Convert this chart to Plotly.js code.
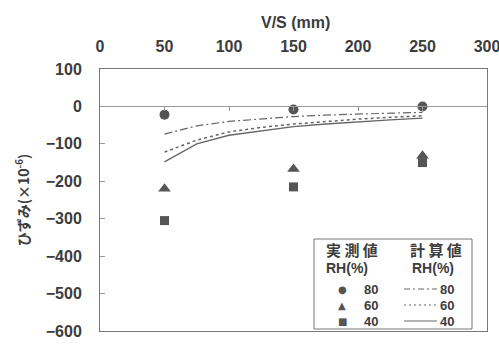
<!DOCTYPE html>
<html><head><meta charset="utf-8">
<script src="https://cdn.plot.ly/plotly-3.0.1.min.js"></script>
<style>html,body{margin:0;padding:0;background:#fff;}#c{width:499px;height:346px;}</style>
</head><body><div id="c"></div>
<script>
// measured values
const vsMeasured = [50, 150, 250];
const meas80 = [-22, -8, 0];
const meas60 = [-220, -167, -132];
const meas40 = [-305, -215, -150];
// calculated values
const vsCalc = [50, 75, 100, 125, 150, 175, 200, 225, 250];
const calc80 = [-74, -52, -40, -33, -27, -23, -20, -18, -16];
const calc60 = [-122, -90, -68, -56, -47, -40, -34, -29, -25];
const calc40 = [-148, -100, -77, -65, -54, -47, -41, -36, -31];
const xTicks = [0, 50, 100, 150, 200, 250, 300];
const yTicks = [100, 0, -100, -200, -300, -400, -500, -600];
const legendRH = ['80', '60', '40'];

const ink = '#3c3c3c';
const F = {family: 'Liberation Sans, Arial, sans-serif', size: 16, color: ink, weight: 'bold'};
const FL = {family: 'Liberation Sans, Arial, sans-serif', size: 14, color: ink, weight: 'bold'};
const FR = {family: 'Liberation Sans, Arial, sans-serif', size: 13, color: ink, weight: 'bold'};
const FJ = {family: 'Noto Sans CJK JP', size: 15, color: ink, weight: 'bold'};
const markerCol = '#555';
const lineCol = '#666';

const data = [
  {x: vsCalc, y: calc80, mode: 'lines', line: {color: lineCol, width: 1.2, dash: '8px,3px,2px,3px'}},
  {x: vsCalc, y: calc60, mode: 'lines', line: {color: lineCol, width: 1.5, dash: 'dot'}},
  {x: vsCalc, y: calc40, mode: 'lines', line: {color: lineCol, width: 1.3, dash: 'solid'}},
  {x: vsMeasured, y: meas80, mode: 'markers', marker: {symbol: 'circle', size: 10, color: markerCol}},
  {x: vsMeasured, y: meas60, mode: 'markers', marker: {symbol: 'triangle-up', size: 11, color: markerCol}},
  {x: vsMeasured, y: meas40, mode: 'markers', marker: {symbol: 'square', size: 9, color: markerCol}},
  {x: [0], y: [0], mode: 'markers', marker: {opacity: 0}, xaxis: 'x2', yaxis: 'y', hoverinfo: 'skip'}
];

const L = 100, R = 487, T = 69, B = 331;
const W = R - L, H = B - T;
const px = v => (v - L) / W;
const py = v => (B - v) / H;

function ann(text, x, y, font) {
  return {text: text, xref: 'paper', yref: 'paper', x: px(x), y: py(y), xanchor: 'center', yanchor: 'middle',
          showarrow: false, font: font, borderpad: 0};
}

const shapes = [
  {type: 'rect', xref: 'paper', yref: 'paper', x0: px(314), x1: px(472), y0: py(329), y1: py(239),
   line: {color: '#777', width: 1}, fillcolor: '#fff', layer: 'above'}
];
const annotations = [
  ann('V/S (mm)', 295, 22, F),
  ann('実 測 値', 352, 249, FJ),
  ann('計 算 値', 436, 249, FJ),
  ann('RH(%)', 347, 268, FL),
  ann('RH(%)', 433, 268, FL)
];
const rowY = [289, 305, 321];
const syms = ['●', '▲', '■'];
const dashes = ['6px,3px,2px,3px', '2px,3px', 'solid'];
for (let i = 0; i < 3; i++) {
  annotations.push(ann(syms[i], 342, rowY[i], {family: 'DejaVu Sans', size: 10, color: markerCol}));
  annotations.push(ann(legendRH[i], 371, rowY[i], FR));
  annotations.push(ann(legendRH[i], 447, rowY[i], FR));
  shapes.push({type: 'line', xref: 'paper', yref: 'paper', x0: px(404), x1: px(437), y0: py(rowY[i]), y1: py(rowY[i]),
    line: {color: lineCol, width: 1, dash: dashes[i]}, layer: 'above'});
}

const layout = {
  width: 499, height: 346,
  margin: {l: L, r: 499 - R, t: T, b: 346 - B},
  paper_bgcolor: '#fff', plot_bgcolor: '#fff',
  showlegend: false,
  font: F,
  xaxis: {range: [0, 300], side: 'top', tickvals: xTicks, ticks: '', showgrid: false, zeroline: false,
          showline: true, mirror: true, linecolor: '#777', linewidth: 1, tickfont: F, ticklabelstandoff: 10,
          ticklabeloverflow: 'allow'},
  xaxis2: {range: [0, 300], overlaying: 'x', anchor: 'free', position: 600 / 700, tickvals: [50, 100, 150, 200, 250],
           ticks: 'outside', ticklen: 4, tickcolor: '#999', showticklabels: false, showgrid: false, zeroline: false,
           showline: true, linecolor: '#999', linewidth: 1},
  yaxis: {range: [-600, 100], tickvals: yTicks, ticks: 'inside', ticklen: 5, tickcolor: '#999', showgrid: false,
          zeroline: false, showline: true, mirror: true, linecolor: '#777', linewidth: 1, tickfont: F,
          ticklabelstandoff: 14, ticklabeloverflow: 'allow',
          title: {text: 'ひずみ(×10<sup>-6</sup>)', standoff: 12,
                  font: {family: 'Noto Sans CJK JP', size: 14, color: ink}}},
  shapes: shapes,
  annotations: annotations
};
Plotly.newPlot('c', data, layout, {displayModeBar: false, staticPlot: true});
</script></body></html>
